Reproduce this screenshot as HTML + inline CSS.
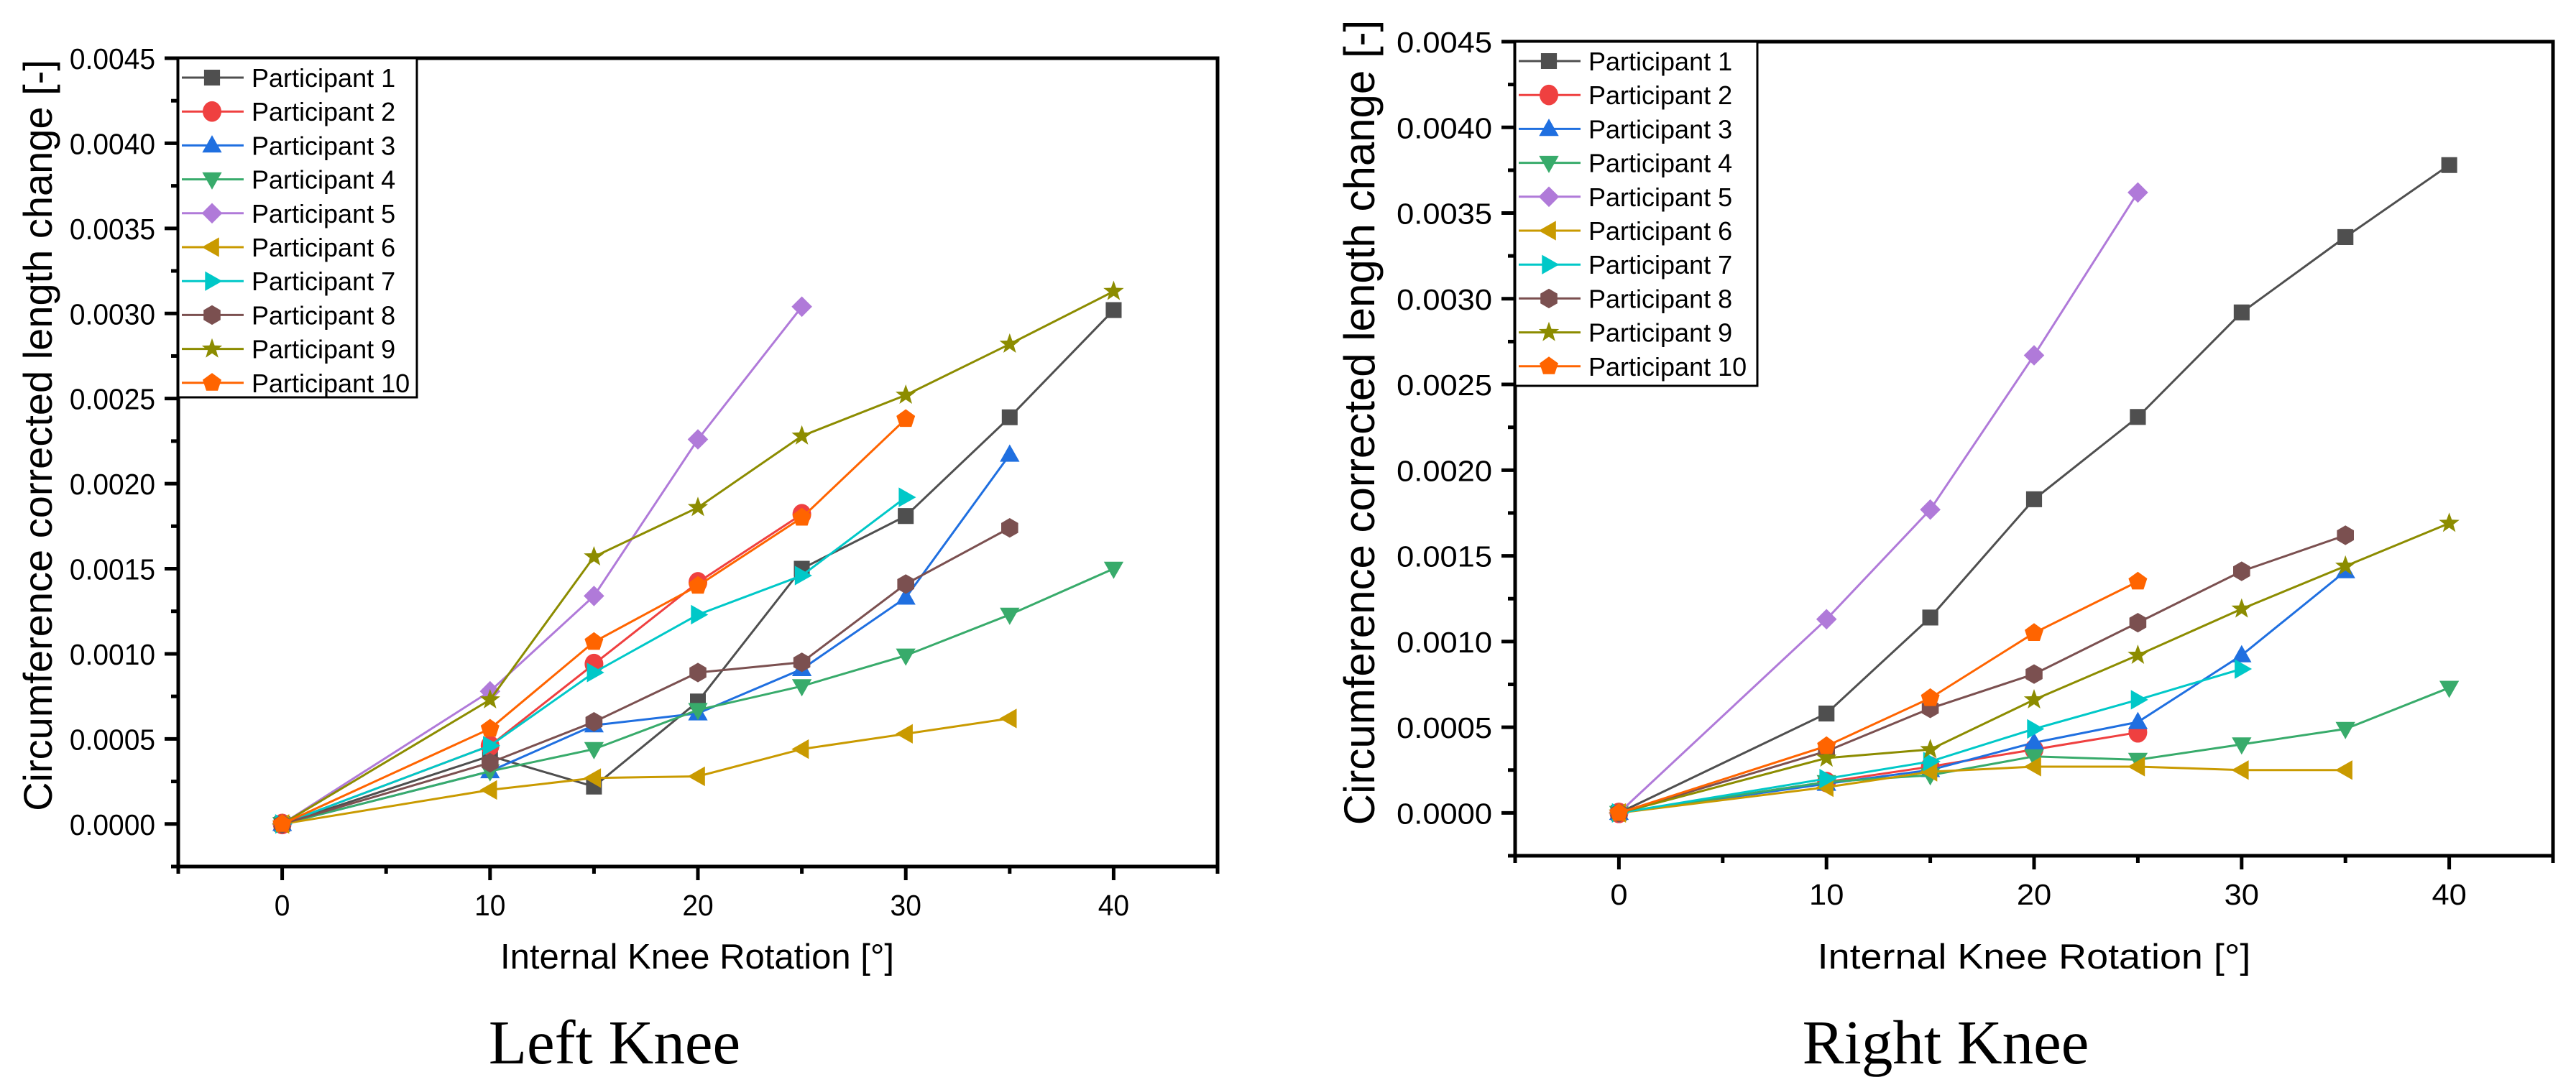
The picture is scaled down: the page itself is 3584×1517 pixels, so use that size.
<!DOCTYPE html>
<html><head><meta charset="utf-8"><style>
html,body{margin:0;padding:0;background:#fff;}
svg{display:block;}
text{font-family:"Liberation Sans",Arial,sans-serif;}
.serif{font-family:"Liberation Serif","Times New Roman",serif;}
</style></head><body>
<svg id="fig" width="3584" height="1517" viewBox="0 0 3584 1517" xmlns="http://www.w3.org/2000/svg"></svg>
<script>
const xValues = [0, 10, 15, 20, 25, 30, 35, 40];
const xTickLabels = ["0", "10", "20", "30", "40"];
const yTickLabels = ["0.0000","0.0005","0.0010","0.0015","0.0020","0.0025","0.0030","0.0035","0.0040","0.0045"];
const seriesNames = ["Participant 1","Participant 2","Participant 3","Participant 4","Participant 5","Participant 6","Participant 7","Participant 8","Participant 9","Participant 10"];
const seriesColors = ["#4f4f4f","#ef4040","#1f6fe0","#38ab6b","#b07ad9","#c99a00","#00c8c8","#7b5050","#8c8c00","#ff6400"];
const seriesMarkers = ["square","circle","up","down","diamond","left","right","hexagon","star","pentagon"];

const leftP1 = [0,0.00040,0.00022,0.00072,0.00150,0.00181,0.00239,0.00302];
const leftP2 = [0,0.00046,0.00094,0.00142,0.00182];
const leftP3 = [0,0.00031,0.00058,0.00065,0.00091,0.00133,0.00217];
const leftP4 = [0,0.00031,0.00044,0.00067,0.00081,0.00099,0.00123,0.00150];
const leftP5 = [0,0.00078,0.00134,0.00226,0.00304];
const leftP6 = [0,0.00020,0.00027,0.00028,0.00044,0.00053,0.00062];
const leftP7 = [0,0.00046,0.00089,0.00123,0.00146,0.00192];
const leftP8 = [0,0.00036,0.00060,0.00089,0.00095,0.00141,0.00174];
const leftP9 = [0,0.00073,0.00157,0.00186,0.00228,0.00252,0.00282,0.00313];
const leftP10 = [0,0.00056,0.00107,0.00140,0.00180,0.00238];

const rightP1 = [0,0.00058,0.00114,0.00183,0.00231,0.00292,0.00336,0.00378];
const rightP2 = [0,0.00018,0.00027,0.00037,0.00047];
const rightP3 = [0,0.00017,0.00025,0.00041,0.00053,0.00092,0.00141];
const rightP4 = [0,0.00018,0.00022,0.00033,0.00031,0.00040,0.00049,0.00073];
const rightP5 = [0,0.00113,0.00177,0.00267,0.00362];
const rightP6 = [0,0.00015,0.00024,0.00027,0.00027,0.00025,0.00025];
const rightP7 = [0,0.00020,0.00030,0.00049,0.00066,0.00084];
const rightP8 = [0,0.00036,0.00061,0.00081,0.00111,0.00141,0.00162];
const rightP9 = [0,0.00032,0.00037,0.00066,0.00092,0.00119,0.00144,0.00169];
const rightP10 = [0,0.00039,0.00067,0.00105,0.00135];

const NS = "http://www.w3.org/2000/svg";
const svg = document.getElementById('fig');
function mk(tag, attrs, parent){ const e=document.createElementNS(NS,tag); for(const k in attrs) e.setAttribute(k,attrs[k]); (parent||svg).appendChild(e); return e; }

function markerPath(type, cx, cy, s){
  const r = s/2; let pts=[];
  const poly = (n, rot, rad) => { const p=[]; for(let i=0;i<n;i++){const a=rot+i*2*Math.PI/n; p.push([cx+rad*Math.cos(a), cy+rad*Math.sin(a)]);} return p; };
  switch(type){
    case 'square': pts=[[cx-r*0.85,cy-r*0.85],[cx+r*0.85,cy-r*0.85],[cx+r*0.85,cy+r*0.85],[cx-r*0.85,cy+r*0.85]]; break;
    case 'up': pts=[[cx,cy-r*1.1],[cx+r*1.05,cy+r*0.75],[cx-r*1.05,cy+r*0.75]]; break;
    case 'down': pts=[[cx,cy+r*1.1],[cx+r*1.05,cy-r*0.75],[cx-r*1.05,cy-r*0.75]]; break;
    case 'left': pts=[[cx-r*1.1,cy],[cx+r*0.75,cy-r*1.05],[cx+r*0.75,cy+r*1.05]]; break;
    case 'right': pts=[[cx+r*1.1,cy],[cx-r*0.75,cy-r*1.05],[cx-r*0.75,cy+r*1.05]]; break;
    case 'diamond': pts=[[cx,cy-r*1.1],[cx+r*1.1,cy],[cx,cy+r*1.1],[cx-r*1.1,cy]]; break;
    case 'hexagon': pts=poly(6,-Math.PI/2,r*1.05); break;
    case 'pentagon': pts=poly(5,-Math.PI/2,r*1.05); break;
    case 'star': { for(let i=0;i<10;i++){const a=-Math.PI/2+i*Math.PI/5; const rr=(i%2===0)?r*1.15:r*0.47; pts.push([cx+rr*Math.cos(a),cy+rr*Math.sin(a)]);} break; }
    case 'circle': return null;
  }
  return 'M'+pts.map(p=>p[0].toFixed(1)+','+p[1].toFixed(1)).join('L')+'Z';
}
function drawMarker(g, type, cx, cy, s, color){
  let e;
  if(type==='circle'){ e=mk('ellipse',{cx:cx,cy:cy,rx:s*0.5,ry:s*0.55,fill:color},g); }
  else { e=mk('path',{d:markerPath(type,cx,cy,s),fill:color},g); }
  return e;
}
function sText(g, x, y, str, size, anchor, sx){
  const t = mk('text',{x:0,y:0,'text-anchor':anchor,'font-size':size,transform:`translate(${x},${y}) scale(${sx},1)`},g);
  t.textContent = str;
  return t;
}

function drawPanel(cfg){
  const g = mk('g',{});
  
  
  const X = v => cfg.x0 + (v - (-5)) / 50 * (cfg.x1 - cfg.x0);
  const Y = v => cfg.y1 - (v - (-0.00025)) / 0.00475 * (cfg.y1 - cfg.y0);

  const tg = mk('g',{stroke:'#000','stroke-width':5},g);
  
  
  for(let i=0;i<=19;i++){
    const v=-0.00025+i*0.00025; const major = (i%2===1);
    const y=Y(v); mk('line',{x1:cfg.x0-(major?19:10),x2:cfg.x0,y1:y,y2:y},tg);
  }
  for(let i=0;i<=10;i++){
    const v=-5+i*5; const major=(i%2===1);
    const x=X(v); mk('line',{x1:x,x2:x,y1:cfg.y1,y2:cfg.y1+(major?19:10)},tg);
  }
  const fr = mk('rect',{x:cfg.x0,y:cfg.y0,width:cfg.x1-cfg.x0,height:cfg.y1-cfg.y0,fill:'none',stroke:'#000','stroke-width':5},g);
  
  

  yTickLabels.forEach((lab,i)=>{
    const t = sText(g, cfg.x0-32, Y(i*0.0005)+15, lab, 41, 'end', cfg.sx);
    
    
  });
  xTickLabels.forEach((lab,i)=>{
    const t = sText(g, X(i*10), cfg.y1+68, lab, 41, 'middle', cfg.sx);
    
    
  });
  const xt = sText(g, cfg.xTitleX, 1348, 'Internal Knee Rotation [°]', 49, 'middle', cfg.xsx);
  
  
  const yt = mk('text',{x:0,y:0,'text-anchor':'middle','font-size':cfg.ytSize,transform:`translate(${cfg.yTitleX},${cfg.yTitleY}) rotate(-90)`},g);
  yt.textContent = 'Circumference corrected length change [-]';
  
  
  const pt = mk('text',{x:cfg.titleX,y:1480,'text-anchor':'middle','font-size':87,class:'serif'},g);
  pt.textContent = cfg.title;
  
  

  cfg.series.forEach((vals,si)=>{
    const sg = mk('g',{},g);
    
    
    const pts = vals.map((v,i)=>X(xValues[i]).toFixed(1)+','+Y(v).toFixed(1)).join(' ');
    const pl = mk('polyline',{points:pts,fill:'none',stroke:seriesColors[si],'stroke-width':3},sg);
    
    
    vals.forEach((v,i)=>{
      const m = drawMarker(sg, seriesMarkers[si], X(xValues[i]), Y(v), 26, seriesColors[si]);
      
      
    });
  });

  const lg = mk('g',{},g);
  
  
  const lb = mk('rect',{x:cfg.x0,y:cfg.y0,width:cfg.legW,height:cfg.legH,fill:'#fff',stroke:'#000','stroke-width':3},lg);
  
  
  seriesNames.forEach((nm,i)=>{
    const eg = mk('g',{},lg);
    
    
    const cy = cfg.y0 + 27 + i*47.2;
    mk('line',{x1:cfg.x0+5,x2:cfg.x0+91,y1:cy,y2:cy,stroke:seriesColors[i],'stroke-width':3},eg);
    drawMarker(eg, seriesMarkers[i], cfg.x0+47, cy, 26, seriesColors[i]);
    const t = mk('text',{x:cfg.x0+102,y:cy+13,'font-size':36},eg);
    t.textContent = nm;
  });
}

drawPanel({name:'left-knee-chart', title:'Left Knee', x0:248, x1:1694, y0:81, y1:1206, xTitleX:970, yTitleX:72, yTitleY:606, ytSize:56, titleX:855, legW:332, legH:472, sx:0.95, xsx:1.0,
  series:[leftP1,leftP2,leftP3,leftP4,leftP5,leftP6,leftP7,leftP8,leftP9,leftP10]});
drawPanel({name:'right-knee-chart', title:'Right Knee', x0:2108, x1:3552, y0:58, y1:1191, xTitleX:2830, yTitleX:1912, yTitleY:588, ytSize:60, titleX:2707, legW:337, legH:479, sx:1.06, xsx:1.1,
  series:[rightP1,rightP2,rightP3,rightP4,rightP5,rightP6,rightP7,rightP8,rightP9,rightP10]});
</script>
</body></html>
